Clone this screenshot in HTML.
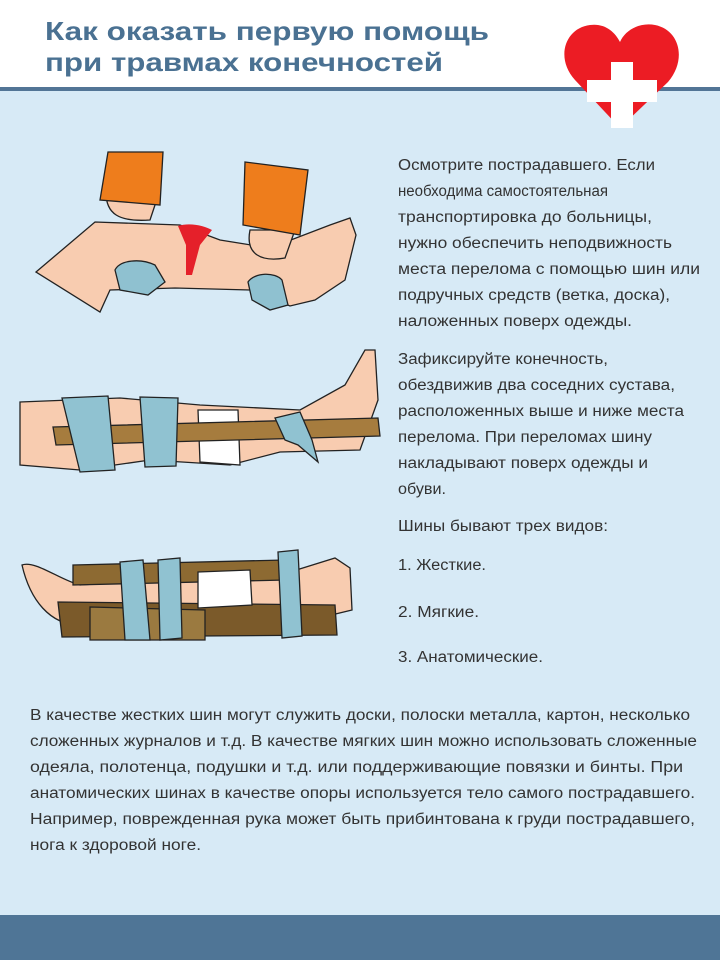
<!DOCTYPE html>
<html><head><meta charset="utf-8"><style>
html,body{margin:0;padding:0;}
body{width:720px;height:960px;overflow:hidden;background:#d7eaf6;}
svg{display:block}
</style></head><body>
<svg width="720" height="960" viewBox="0 0 720 960" xmlns="http://www.w3.org/2000/svg">
<rect x="0" y="0" width="720" height="87" fill="#ffffff"/>
<rect x="0" y="87" width="720" height="4" fill="#527596"/>
<rect x="0" y="915" width="720" height="45" fill="#4f7596"/>
<g font-family="Liberation Sans, DejaVu Sans, sans-serif" font-weight="bold" font-size="26" fill="#4a7192">
<text x="45" y="40" textLength="444" lengthAdjust="spacingAndGlyphs">Как оказать первую помощь</text>
<text x="45" y="71" textLength="398" lengthAdjust="spacingAndGlyphs">при травмах конечностей</text>
</g>
<!-- heart -->
<path d="M620 128 L575 80 C555 58 565 28 590 25 C605 23 615 32 620 42 C625 30 640 22 655 25 C680 30 687 60 668 82 Z" fill="#ec1c24"/>
<rect x="611" y="62" width="22" height="66" fill="#fff"/>
<rect x="587" y="80" width="70" height="22" fill="#fff"/>

<!-- illustration 1 -->
<g stroke="#222" stroke-width="1.3">
<path d="M36 272 L95 222 L180 225 L220 240 L270 248 L330 225 L350 218 L356 235 L345 280 L315 300 L290 306 L250 290 L175 288 L110 290 L100 312 Z" fill="#f8ccb0"/>
<path d="M106 190 C105 215 120 222 150 220 L160 190 Z" fill="#f8ccb0"/>
<path d="M250 230 C245 255 262 262 285 258 L295 230 Z" fill="#f8ccb0"/>
<path d="M108 152 L163 152 L160 205 L100 200 Z" fill="#ee7d1c"/>
<path d="M245 162 L308 170 L300 235 L243 225 Z" fill="#ee7d1c"/>
<path d="M115 270 C120 260 140 258 155 265 L165 282 L148 295 L120 290 Z" fill="#8fc1d0"/>
<path d="M248 282 C255 272 275 272 282 280 L288 305 L270 310 L252 300 Z" fill="#8fc1d0"/>
</g>
<path d="M178 226 C190 222 205 226 212 230 L200 245 L192 275 L186 275 L186 245 Z" fill="#e5202a"/>

<!-- illustration 2 -->
<g stroke="#222" stroke-width="1.3">
<path d="M20 402 L120 398 L200 405 L300 410 L345 385 L365 350 L375 350 L378 400 L360 450 L280 452 L230 465 L150 460 L80 470 L20 465 Z" fill="#f8ccb0"/>
<path d="M198 410 L238 410 L240 465 L200 462 Z" fill="#fff"/>
<path d="M53 427 L378 418 L380 436 L56 445 Z" fill="#a67c3e"/>
<path d="M62 398 L108 396 L115 470 L80 472 Z" fill="#90c2d1"/>
<path d="M140 397 L178 398 L176 466 L145 467 Z" fill="#90c2d1"/>
<path d="M275 418 L300 412 L312 440 L318 462 L298 445 L285 440 Z" fill="#90c2d1"/>
</g>

<!-- illustration 3 -->
<g stroke="#222" stroke-width="1.3">
<path d="M22 565 C35 560 60 580 80 585 L290 572 L335 558 L350 568 L352 610 L290 625 L80 625 C50 625 30 600 22 565 Z" fill="#f8ccb0"/>
<path d="M73 565 L285 560 L285 580 L73 585 Z" fill="#8d6a32"/>
<path d="M58 602 L335 605 L337 635 L62 637 Z" fill="#7b5a2a"/>
<path d="M90 607 L205 610 L205 640 L90 640 Z" fill="#9b7a40"/>
<path d="M198 572 L250 570 L252 605 L198 608 Z" fill="#fff"/>
<path d="M120 562 L143 560 L150 640 L125 640 Z" fill="#90c2d1"/>
<path d="M158 560 L180 558 L182 638 L160 640 Z" fill="#90c2d1"/>
<path d="M278 552 L298 550 L302 636 L282 638 Z" fill="#90c2d1"/>
</g>

<g font-family="Liberation Sans, DejaVu Sans, sans-serif" font-size="15.5" fill="#333" lengthAdjust="spacingAndGlyphs">
<text x="398" y="170" textLength="257" lengthAdjust="spacingAndGlyphs">Осмотрите пострадавшего. Если</text>
<text x="398" y="196" textLength="210" lengthAdjust="spacingAndGlyphs">необходима самостоятельная</text>
<text x="398" y="222" textLength="254" lengthAdjust="spacingAndGlyphs">транспортировка до больницы,</text>
<text x="398" y="248" textLength="274" lengthAdjust="spacingAndGlyphs">нужно обеспечить неподвижность</text>
<text x="398" y="274" textLength="302" lengthAdjust="spacingAndGlyphs">места перелома с помощью шин или</text>
<text x="398" y="300" textLength="272" lengthAdjust="spacingAndGlyphs">подручных средств (ветка, доска),</text>
<text x="398" y="326" textLength="234" lengthAdjust="spacingAndGlyphs">наложенных поверх одежды.</text>
<text x="398" y="364" textLength="210" lengthAdjust="spacingAndGlyphs">Зафиксируйте конечность,</text>
<text x="398" y="390" textLength="277" lengthAdjust="spacingAndGlyphs">обездвижив два соседних сустава,</text>
<text x="398" y="416" textLength="286" lengthAdjust="spacingAndGlyphs">расположенных выше и ниже места</text>
<text x="398" y="442" textLength="254" lengthAdjust="spacingAndGlyphs">перелома. При переломах шину</text>
<text x="398" y="468" textLength="250" lengthAdjust="spacingAndGlyphs">накладывают поверх одежды и</text>
<text x="398" y="494" textLength="48" lengthAdjust="spacingAndGlyphs">обуви.</text>
<text x="398" y="531" textLength="210" lengthAdjust="spacingAndGlyphs">Шины бывают трех видов:</text>
<text x="398" y="570" textLength="88" lengthAdjust="spacingAndGlyphs">1. Жесткие.</text>
<text x="398" y="617" textLength="81" lengthAdjust="spacingAndGlyphs">2. Мягкие.</text>
<text x="398" y="662" textLength="145" lengthAdjust="spacingAndGlyphs">3. Анатомические.</text>

<text x="30" y="720" textLength="660" lengthAdjust="spacingAndGlyphs">В качестве жестких шин могут служить доски, полоски металла, картон, несколько</text>
<text x="30" y="746" textLength="667" lengthAdjust="spacingAndGlyphs">сложенных журналов и т.д. В качестве мягких шин можно использовать сложенные</text>
<text x="30" y="772" textLength="653" lengthAdjust="spacingAndGlyphs">одеяла, полотенца, подушки и т.д. или поддерживающие повязки и бинты. При</text>
<text x="30" y="798" textLength="665" lengthAdjust="spacingAndGlyphs">анатомических шинах в качестве опоры используется тело самого пострадавшего.</text>
<text x="30" y="824" textLength="665" lengthAdjust="spacingAndGlyphs">Например, поврежденная рука может быть прибинтована к груди пострадавшего,</text>
<text x="30" y="850" textLength="171" lengthAdjust="spacingAndGlyphs">нога к здоровой ноге.</text>
</g>
</svg>
</body></html>
